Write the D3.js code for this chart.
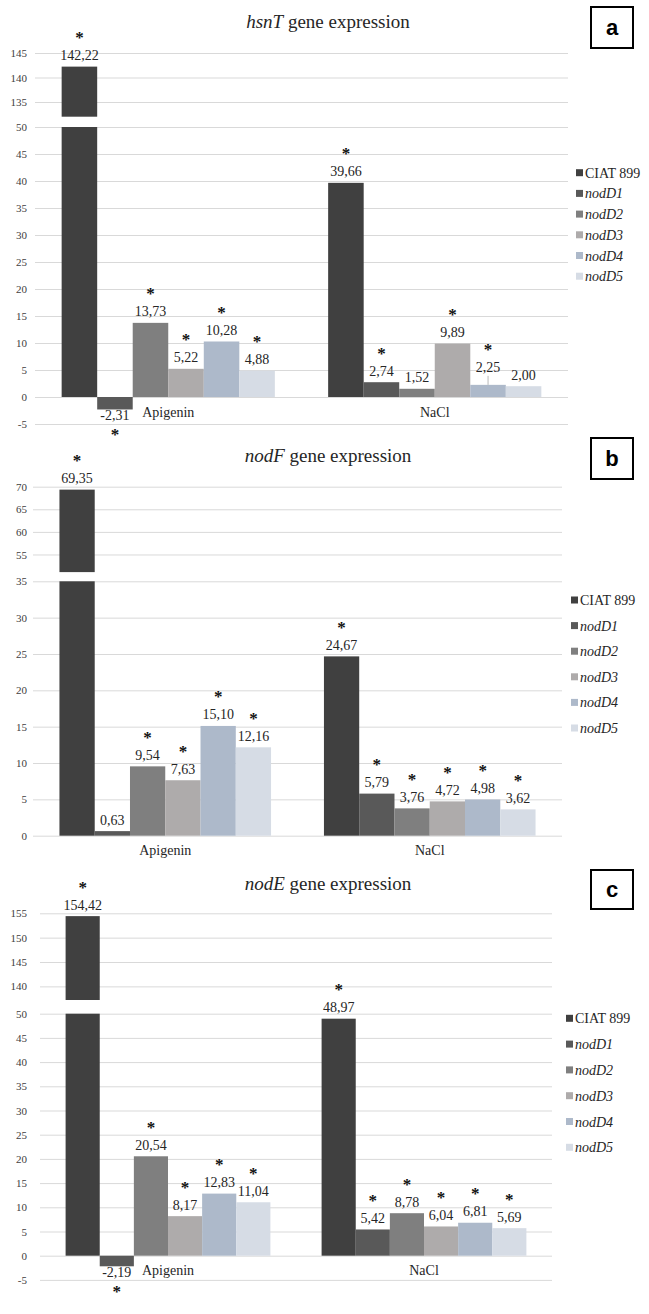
<!DOCTYPE html>
<html><head><meta charset="utf-8">
<script src="https://cdn.jsdelivr.net/npm/d3@7"></script>
<style>body{margin:0;background:#fff}svg{display:block}</style>
</head><body>
<script>
// ---------- DATA ----------
const categories = ["Apigenin", "NaCl"];
const seriesNames = ["CIAT 899", "nodD1", "nodD2", "nodD3", "nodD4", "nodD5"];
const seriesItalic = [false, true, true, true, true, true];

const hsnTValues = [[142.22, -2.31, 13.73, 5.22, 10.28, 4.88], [39.66, 2.74, 1.52, 9.89, 2.25, 2.00]];
const hsnTSignificant = [[1, 1, 1, 1, 1, 1], [1, 1, 0, 1, 1, 0]];
const hsnTLowerTicks = [-5, 0, 5, 10, 15, 20, 25, 30, 35, 40, 45, 50];
const hsnTUpperTicks = [135, 140, 145];

const nodFValues = [[69.35, 0.63, 9.54, 7.63, 15.10, 12.16], [24.67, 5.79, 3.76, 4.72, 4.98, 3.62]];
const nodFSignificant = [[1, 0, 1, 1, 1, 1], [1, 1, 1, 1, 1, 1]];
const nodFLowerTicks = [0, 5, 10, 15, 20, 25, 30, 35];
const nodFUpperTicks = [55, 60, 65, 70];

const nodEValues = [[154.42, -2.19, 20.54, 8.17, 12.83, 11.04], [48.97, 5.42, 8.78, 6.04, 6.81, 5.69]];
const nodESignificant = [[1, 1, 1, 1, 1, 1], [1, 1, 1, 1, 1, 1]];
const nodELowerTicks = [-5, 0, 5, 10, 15, 20, 25, 30, 35, 40, 45, 50];
const nodEUpperTicks = [140, 145, 150, 155];

// ---------- STYLE / LAYOUT ----------
const colors = ["#404040", "#595959", "#7f7f7f", "#aeabab", "#adb9ca", "#d6dce5"];
const SERIF = "'Liberation Serif','Times New Roman',serif";
const SANS = "'Liberation Sans',Arial,sans-serif";

const panels = [
  { gene: "hsnT", letter: "a", values: hsnTValues, sig: hsnTSignificant,
    lowerTicks: hsnTLowerTicks, upperTicks: hsnTUpperTicks,
    titleY: 28, box: [591, 7, 42, 41],
    x0: 35, x1: 568,
    lowerDomain: [-5, 50], lowerRange: [424, 127],
    upperDomain: [132, 145], upperRange: [116.7, 53],
    legendX: 576, legendY: 172.7, legendStep: 20.7,
    nudges: { "1-4": 6.5 } },
  { gene: "nodF", letter: "b", values: nodFValues, sig: nodFSignificant,
    lowerTicks: nodFLowerTicks, upperTicks: nodFUpperTicks,
    titleY: 461.7, box: [591, 438, 42, 41],
    x0: 33, x1: 562,
    lowerDomain: [0, 35], lowerRange: [835.7, 581.3],
    upperDomain: [51.1, 70], upperRange: [572.1, 486.7],
    legendX: 571, legendY: 600, legendStep: 25.6, nudges: {} },
  { gene: "nodE", letter: "c", values: nodEValues, sig: nodESignificant,
    lowerTicks: nodELowerTicks, upperTicks: nodEUpperTicks,
    titleY: 890, box: [591, 870, 42, 39],
    x0: 40, x1: 552,
    lowerDomain: [-5, 50], lowerRange: [1279.9, 1013.7],
    upperDomain: [137.2, 155], upperRange: [1000, 913.3],
    legendX: 566, legendY: 1018.3, legendStep: 25.8, nudges: {} }
];

const svg = d3.select("body").append("svg").attr("width", 649).attr("height", 1314)
  .style("background", "#fff");

const fmt = v => v.toFixed(2).replace(".", ",");

function drawPanel(p) {
  const g = svg.append("g");
  const x0 = d3.scaleBand().domain(categories).range([p.x0, p.x1]).paddingInner(0.2).paddingOuter(0.1);
  const x1 = d3.scaleBand().domain(seriesNames).range([0, x0.bandwidth()]);
  const yL = d3.scaleLinear().domain(p.lowerDomain).range(p.lowerRange);
  const yU = d3.scaleLinear().domain(p.upperDomain).range(p.upperRange);
  const W = p.x1 - p.x0;

  // gridlines + tick labels
  [[yL, p.lowerTicks], [yU, p.upperTicks]].forEach(([sc, ticks]) => {
    const ax = g.append("g").attr("transform", `translate(${p.x0},0)`)
      .call(d3.axisLeft(sc).tickValues(ticks).tickSize(-W).tickPadding(p.x0 - 27).tickFormat(d => String(d)));
    ax.select(".domain").remove();
    ax.selectAll(".tick line").attr("stroke", "#d9d9d9").attr("stroke-width", 1);
    ax.selectAll(".tick text").attr("fill", "#404040").style("font-family", SERIF).style("font-size", "11px");
  });

  const lowMax = p.lowerDomain[1];
  const zero = yL(0);

  categories.forEach((cat, ci) => {
    seriesNames.forEach((s, si) => {
      const v = p.values[ci][si];
      const bx = x0(cat) + x1(s);
      const bw = x1.bandwidth();
      let topY;
      if (v > lowMax) {
        g.append("rect").attr("x", bx).attr("width", bw).attr("y", yL(lowMax)).attr("height", zero - yL(lowMax)).attr("fill", colors[si]);
        g.append("rect").attr("x", bx).attr("width", bw).attr("y", yU(v)).attr("height", yU(p.upperDomain[0]) - yU(v)).attr("fill", colors[si]);
        topY = yU(v);
      } else {
        const y1 = yL(Math.max(0, v)), y2 = yL(Math.min(0, v));
        g.append("rect").attr("x", bx).attr("width", bw).attr("y", y1).attr("height", y2 - y1).attr("fill", colors[si]);
        topY = v >= 0 ? y1 : y2;
      }
      const cx = bx + bw / 2;
      const lift = p.nudges[ci + "-" + si] || 0;
      let labelBase, starBase;
      if (v >= 0) {
        labelBase = topY - 6.5 - lift;
        starBase = topY - 23.5 - lift;
        if (lift) {
          g.append("line").attr("x1", cx).attr("x2", cx).attr("y1", topY - 9).attr("y2", topY)
            .attr("stroke", "#a6a6a6").attr("stroke-width", 0.8);
        }
      } else {
        labelBase = topY + 11;
        starBase = topY + 30.5;
      }
      g.append("text").attr("x", cx).attr("y", labelBase).attr("text-anchor", "middle")
        .style("font-family", SERIF).style("font-size", "14px").attr("fill", "#262626").text(fmt(v));
      if (p.sig[ci][si]) {
        g.append("text").attr("x", cx).attr("y", starBase).attr("text-anchor", "middle")
          .style("font-family", SERIF).style("font-size", "17px").style("font-weight", "bold")
          .attr("fill", "#111").text("*");
      }
    });
    // category label
    g.append("text").attr("x", x0(cat) + x0.bandwidth() / 2).attr("y", zero + 19.5)
      .attr("text-anchor", "middle").style("font-family", SERIF).style("font-size", "14px")
      .attr("fill", "#262626").text(cat);
  });

  // title
  const t = g.append("text").attr("x", 328).attr("y", p.titleY).attr("text-anchor", "middle")
    .style("font-family", SERIF).style("font-size", "19px").attr("fill", "#262626");
  t.append("tspan").style("font-style", "italic").text(p.gene);
  t.append("tspan").text(" gene expression");

  // panel letter box
  const [bxp, byp, bwp, bhp] = p.box;
  g.append("rect").attr("x", bxp).attr("y", byp).attr("width", bwp).attr("height", bhp)
    .attr("fill", "#fff").attr("stroke", "#000").attr("stroke-width", 2);
  g.append("text").attr("x", bxp + bwp / 2).attr("y", byp + bhp / 2 + 7.5).attr("text-anchor", "middle")
    .style("font-family", SANS).style("font-weight", "bold").style("font-size", "22px").text(p.letter);

  // legend
  seriesNames.forEach((s, si) => {
    const ly = p.legendY + si * p.legendStep;
    g.append("rect").attr("x", p.legendX).attr("y", ly - 3.5).attr("width", 7).attr("height", 7).attr("fill", colors[si]);
    g.append("text").attr("x", p.legendX + 9).attr("y", ly + 5)
      .style("font-family", SERIF).style("font-size", "14px").style("font-style", seriesItalic[si] ? "italic" : "normal")
      .attr("fill", "#262626").text(s);
  });
}

panels.forEach(drawPanel);
</script>
</body></html>
